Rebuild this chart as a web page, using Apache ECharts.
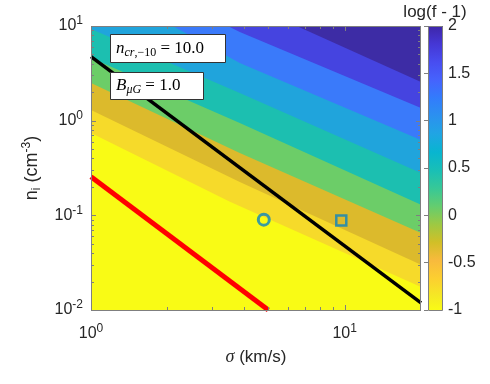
<!DOCTYPE html>
<html><head><meta charset="utf-8">
<script src="https://cdn.jsdelivr.net/npm/echarts@6/dist/echarts.min.js"></script>
<style>html,body{margin:0;padding:0;background:#fff}#c{width:490px;height:384px}</style>
</head><body><div id="c"></div>
<script>
// ---------- data ----------
const xRange = [1, 20];          // sigma (km/s), log axis
const yRange = [0.01, 10];       // n_i (cm^-3), log axis
const xMajorTicks = [1, 10];
const xMinorTicks = [2, 3, 4, 5, 6, 7, 8, 9];
const yMajorTicks = [0.01, 0.1, 1, 10];
const yMinorTicks = [0.02, 0.03, 0.04, 0.05, 0.06, 0.07, 0.08, 0.09,
                     0.2, 0.3, 0.4, 0.5, 0.6, 0.7, 0.8, 0.9,
                     2, 3, 4, 5, 6, 7, 8, 9];
// contour band boundaries [sigma, n_i], lowest (yellow side) first
const bGoldYellow      = [[1, 0.741], [3.53, 0.139], [20, 0.0175]];
const bOchreGold       = [[1, 1.30], [3.86, 0.225], [20, 0.030]];
const bGreenOchre      = [[1, 2.50], [3.86, 0.456], [20, 0.065]];
const bTealGreen       = [[1, 4.59], [3.86, 0.946], [20, 0.129]];
const bLightBlueTeal   = [[1, 9.3], [3.86, 1.96], [20, 0.28]];
const bBlueLightBlue   = [[2.1, 10], [3.86, 4.07], [20, 0.625]];
const bPurpleBlueBlue  = [[3.46, 10], [3.86, 8.64], [20, 1.36]];
const bDarkPurple      = [[6.47, 10], [20, 2.56]];
const blackLine = [[1, 4.74], [20, 0.0119]];
const redLine   = [[1, 0.256], [5, 0.01]];
const circlePoint = [[4.8, 0.09]];
const squarePoint = [[9.7, 0.088]];
const cbarMin = -1, cbarMax = 2, cbarStep = 0.5;

// ---------- styles ----------
const baseColor = '#f9fb15';
const bandColors = ['#f6da2a', '#dcba2c', '#6ccd68', '#1cbfb0', '#20a4dc', '#3a7afa', '#4544e0', '#3d2ca5'];
const parula = [
  [1, [0.2422,0.1504,0.6603]], [5, [0.2706,0.2147,0.8364]], [9, [0.2813,0.3006,0.9414]],
  [13, [0.2699,0.3892,0.9906]], [17, [0.1963,0.4847,0.9892]], [21, [0.1687,0.5703,0.9359]],
  [25, [0.1248,0.6459,0.8883]], [29, [0.0297,0.7082,0.8163]], [33, [0.0964,0.7500,0.7120]],
  [37, [0.2161,0.7843,0.5923]], [41, [0.3909,0.8029,0.4354]], [45, [0.6174,0.7876,0.2612]],
  [49, [0.8203,0.7498,0.1535]], [53, [0.9728,0.7298,0.2394]], [57, [0.9892,0.8136,0.1885]],
  [61, [0.9597,0.9135,0.1423]], [64, [0.9769,0.9839,0.0805]]
];
const boundaries = [bGoldYellow, bOchreGold, bGreenOchre, bTealGreen, bLightBlueTeal, bBlueLightBlue, bPurpleBlueBlue, bDarkPurple];
const sansFont = '"Liberation Sans", Arial, Helvetica, sans-serif';
const serifFont = '"Liberation Serif", "Times New Roman", serif';
const txtColor = '#262626';
const axisGray = '#7f7f7f';

const labelRich = {
  b: {fontSize: 16, fontFamily: sansFont, color: txtColor},
  s: {fontSize: 12, fontFamily: sansFont, color: txtColor, padding: [0, 0, 10, 0]}
};
function powLabel(v) {
  const e = Math.round(Math.log10(v));
  if (Math.abs(v / Math.pow(10, e) - 1) > 1e-6) return '';
  return '{b|10}{s|' + e + '}';
}
function rgb(c) { return 'rgb(' + c.map(x => Math.round(x * 255)).join(',') + ')'; }

const chart = echarts.init(document.getElementById('c'), null, {renderer: 'canvas'});

function line(x1, y1, x2, y2) {
  return {type: 'line', shape: {x1, y1, x2, y2}, style: {stroke: axisGray, lineWidth: 1}};
}

const option = {
  animation: false,
  grid: [
    {left: 91, top: 26, width: 330, height: 284, show: true, backgroundColor: baseColor, borderWidth: 0},
    {left: 428, top: 26, width: 15, height: 284, show: false}
  ],
  xAxis: [
    {type: 'log', logBase: 10, min: xRange[0], max: xRange[1], gridIndex: 0,
     axisLine: {show: false}, axisTick: {show: false}, splitLine: {show: false},
     axisLabel: {formatter: powLabel, rich: labelRich, margin: 13}},
    {type: 'value', min: 0, max: 1, gridIndex: 1, show: false}
  ],
  yAxis: [
    {type: 'log', logBase: 10, min: yRange[0], max: yRange[1], gridIndex: 0,
     axisLine: {show: false}, axisTick: {show: false}, splitLine: {show: false},
     axisLabel: {formatter: powLabel, rich: labelRich, margin: 8}},
    {type: 'value', min: cbarMin, max: cbarMax, interval: cbarStep, gridIndex: 1, position: 'right', z: 10,
     axisLine: {show: false}, splitLine: {show: false},
     axisTick: {show: true, inside: true, length: 4, lineStyle: {color: axisGray}},
     axisLabel: {margin: 5, fontSize: 16, fontFamily: sansFont, color: txtColor}}
  ],
  series: [
    {
      type: 'custom', name: 'contours', xAxisIndex: 0, yAxisIndex: 0, silent: true, z: 1,
      data: boundaries.map(b => [b[0][0], b[0][1]]),
      encode: {x: 0, y: 1},
      renderItem: function (params, api) {
        const b = boundaries[params.dataIndex];
        const pts = b.map(p => api.coord(p));
        pts.push(api.coord([xRange[1], yRange[1]]));
        if (b[0][0] <= xRange[0]) pts.push(api.coord([xRange[0], yRange[1]]));
        return {type: 'polygon', shape: {points: pts}, style: {fill: bandColors[params.dataIndex], stroke: null}};
      }
    },
    {type: 'line', name: 'black', data: blackLine, showSymbol: false, symbol: 'none', z: 3,
     lineStyle: {color: '#000', width: 3.5}, silent: true},
    {type: 'line', name: 'red', data: redLine, showSymbol: false, symbol: 'none', z: 3,
     lineStyle: {color: '#ff0000', width: 5}, silent: true},
    {type: 'scatter', name: 'circle', data: circlePoint, symbol: 'circle', symbolSize: 11, z: 4,
     itemStyle: {color: 'rgba(0,0,0,0)', borderColor: '#0b85c1', borderWidth: 3}},
    {type: 'scatter', name: 'square', data: squarePoint, symbol: 'rect', symbolSize: 10, z: 4,
     itemStyle: {color: 'rgba(0,0,0,0)', borderColor: '#0b85c1', borderWidth: 2.5}},
    {
      type: 'custom', name: 'ticks', xAxisIndex: 0, yAxisIndex: 0, silent: true, z: 6,
      data: [[1, 1]], encode: {x: 0, y: 1},
      renderItem: function (params, api) {
        const cs = params.coordSys;
        const L = cs.x, R = cs.x + cs.width, T = cs.y, B = cs.y + cs.height;
        const ch = [];
        const addX = (v, len) => {
          const x = Math.round(api.coord([v, yRange[0]])[0]) + 0.5;
          ch.push(line(x, B, x, B - len)); ch.push(line(x, T, x, T + len));
        };
        const addY = (v, len) => {
          const y = Math.round(api.coord([xRange[0], v])[1]) + 0.5;
          ch.push(line(L, y, L + len, y)); ch.push(line(R, y, R - len, y));
        };
        xMajorTicks.forEach(v => addX(v, 5));
        xMinorTicks.forEach(v => addX(v, 3));
        yMajorTicks.forEach(v => addY(v, 5));
        yMinorTicks.forEach(v => addY(v, 3));
        ch.push({type: 'rect', shape: {x: L + 0.5, y: T + 0.5, width: cs.width - 1, height: cs.height},
                 style: {fill: null, stroke: axisGray, lineWidth: 1}});
        return {type: 'group', children: ch};
      }
    },
    {
      type: 'custom', name: 'colorbar', xAxisIndex: 1, yAxisIndex: 1, silent: true, z: 2,
      data: [[0, cbarMin]], encode: {x: 0, y: 1},
      renderItem: function (params, api) {
        const p1 = api.coord([0, cbarMax]);
        const p2 = api.coord([1, cbarMin]);
        const stops = parula.map(s => ({offset: (s[0] - 1) / 63, color: rgb(s[1])}));
        return {type: 'group', children: [
          {type: 'rect', shape: {x: p1[0], y: p1[1], width: p2[0] - p1[0], height: p2[1] - p1[1]},
           style: {fill: new echarts.graphic.LinearGradient(0, 0, 0, 1, stops)}},
          {type: 'rect', shape: {x: p1[0] + 0.5, y: p1[1] + 0.5, width: p2[0] - p1[0] - 1, height: p2[1] - p1[1]},
           style: {fill: null, stroke: axisGray, lineWidth: 1}}
        ]};
      }
    }
  ],
  graphic: [
    {type: 'text', z: 100, x: 435, y: 12,
     style: {text: 'log(f - 1)', font: '17px ' + sansFont, fill: txtColor, align: 'center', verticalAlign: 'middle'}},
    {type: 'text', z: 100, x: 256, y: 357,
     style: {text: '{g|σ}{t| (km/s)}', align: 'center', verticalAlign: 'middle',
       rich: {g: {fontSize: 18, fontFamily: serifFont, fontStyle: 'italic', fill: txtColor},
              t: {fontSize: 17, fontFamily: sansFont, fill: txtColor}}}},
    {type: 'text', z: 100, x: 32, y: 168, rotation: Math.PI / 2,
     style: {text: '{t|n}{sub|i}{t| (cm}{sup|-3}{t|)}', align: 'center', verticalAlign: 'middle',
       rich: {t: {fontSize: 18, fontFamily: sansFont, fill: txtColor},
              sub: {fontSize: 12, fontFamily: sansFont, fill: txtColor, padding: [10, 0, 0, 0]},
              sup: {fontSize: 12, fontFamily: sansFont, fill: txtColor, padding: [0, 0, 10, 0]}}}},
    {type: 'rect', z: 100, shape: {x: 110.5, y: 34.5, width: 115, height: 28},
     style: {fill: '#fff', stroke: '#333', lineWidth: 1}},
    {type: 'text', z: 101, x: 116, y: 49,
     style: {text: '{i|n}{si|cr}{s|,−10}{t| = 10.0}', verticalAlign: 'middle',
       rich: {i: {fontSize: 17, fontFamily: serifFont, fontStyle: 'italic', fill: '#000'},
              si: {fontSize: 12, fontFamily: serifFont, fontStyle: 'italic', fill: '#000', padding: [8, 0, 0, 0]},
              s: {fontSize: 12, fontFamily: serifFont, fill: '#000', padding: [8, 0, 0, 0]},
              t: {fontSize: 17, fontFamily: serifFont, fill: '#000'}}}},
    {type: 'rect', z: 100, shape: {x: 110.5, y: 72.5, width: 93, height: 27},
     style: {fill: '#fff', stroke: '#333', lineWidth: 1}},
    {type: 'text', z: 101, x: 116, y: 86,
     style: {text: '{i|B}{si|μG}{t| = 1.0}', verticalAlign: 'middle',
       rich: {i: {fontSize: 17, fontFamily: serifFont, fontStyle: 'italic', fill: '#000'},
              si: {fontSize: 12, fontFamily: serifFont, fontStyle: 'italic', fill: '#000', padding: [8, 0, 0, 0]},
              t: {fontSize: 17, fontFamily: serifFont, fill: '#000'}}}}
  ]
};
chart.setOption(option);
</script>
</body></html>
